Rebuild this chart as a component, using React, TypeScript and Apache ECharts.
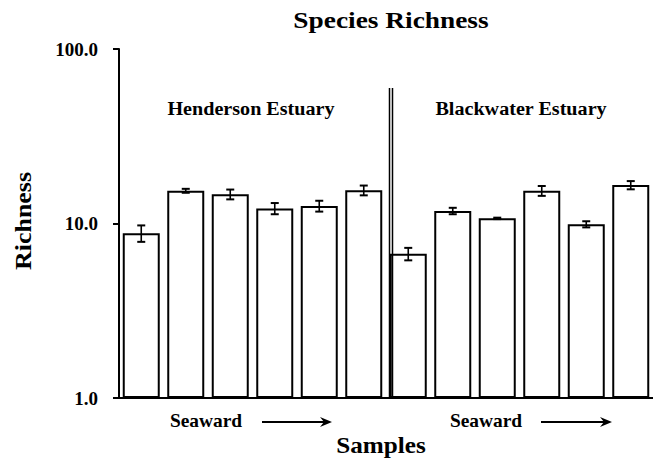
import React, { useEffect, useRef } from "react";
import * as echarts from "echarts";

const categories = ["H1", "H2", "H3", "H4", "H5", "H6", "B1", "B2", "B3", "B4", "B5", "B6"];
const richness = [8.8, 15.4, 14.7, 12.2, 12.6, 15.5, 6.7, 11.8, 10.7, 15.4, 9.9, 16.6];
const errors = [0.95, 0.4, 0.95, 0.9, 0.9, 1.0, 0.55, 0.5, 0.1, 1.0, 0.4, 0.9];
const yTickValues = [1, 10, 100];
const yTickLabels = ["1.0", "10.0", "100.0"];
const groupLabels = ["Henderson Estuary", "Blackwater Estuary"];
const directionLabel = "Seaward";
const titleText = "Species Richness";
const xName = "Samples";
const yName = "Richness";

const FONT = "Liberation Serif";

export default function App() {
  const ref = useRef<HTMLDivElement>(null);
  useEffect(() => {
    document.body.style.margin = "0";
    if (!ref.current) return;
    const chart = echarts.init(ref.current, null, { renderer: "svg" });
    const txt = (text: string, x: number, y: number, size: number, sx: number, rot = 0) => ({
      type: "text",
      x,
      y,
      rotation: rot,
      scaleX: sx,
      z: 10,
      style: {
        text,
        fontSize: size,
        fontWeight: "bold",
        fontFamily: FONT,
        fill: "#000",
        align: "center",
        verticalAlign: "middle",
      },
    });
    const arrow = (x1: number, x2: number, y: number) => [
      { type: "line", z: 10, shape: { x1, y1: y, x2: x2 - 6, y2: y }, style: { stroke: "#000", lineWidth: 2 } },
      {
        type: "polygon",
        z: 10,
        shape: { points: [[x2, y], [x2 - 12, y - 5], [x2 - 8, y], [x2 - 12, y + 5]] },
        style: { fill: "#000" },
      },
    ];
    chart.setOption({
      animation: false,
      backgroundColor: "#fff",
      grid: { left: 119, right: -12, top: 49, bottom: 60, containLabel: false },
      xAxis: {
        type: "category",
        data: categories,
        axisLine: { lineStyle: { color: "#000", width: 2 } },
        axisTick: { show: false },
        axisLabel: { show: false },
        splitLine: { show: false },
      },
      yAxis: {
        type: "log",
        logBase: 10,
        min: yTickValues[0],
        max: yTickValues[yTickValues.length - 1],
        axisLine: { show: true, lineStyle: { color: "#000", width: 2 } },
        axisTick: { show: true, length: 6, lineStyle: { color: "#000", width: 2 } },
        splitLine: { show: false },
        minorTick: { show: false },
        axisLabel: {
          margin: 21,
          fontSize: 19,
          fontWeight: "bold",
          fontFamily: FONT,
          color: "#000",
          formatter: (v: number) => {
            const i = yTickValues.findIndex((t) => Math.abs(t - v) < 1e-6);
            return i >= 0 ? yTickLabels[i] : "";
          },
        },
      },
      series: [
        {
          type: "bar",
          data: richness,
          barWidth: 37,
          itemStyle: { color: "#fff", borderColor: "#000", borderWidth: 2 },
          z: 2,
        },
        {
          type: "custom",
          z: 5,
          data: richness.map((v, i) => [i, v, errors[i]]),
          renderItem: (params: any, api: any) => {
            const i = api.value(0);
            const v = api.value(1);
            const e = api.value(2);
            const top = api.coord([i, v + e]);
            const bot = api.coord([i, v - e]);
            const cw = 4;
            const st = { stroke: "#000", lineWidth: 1.6 };
            return {
              type: "group",
              children: [
                { type: "line", shape: { x1: top[0], y1: top[1], x2: bot[0], y2: bot[1] }, style: st },
                { type: "line", shape: { x1: top[0] - cw, y1: top[1], x2: top[0] + cw, y2: top[1] }, style: { ...st, lineWidth: 2 } },
                { type: "line", shape: { x1: bot[0] - cw, y1: bot[1], x2: bot[0] + cw, y2: bot[1] }, style: { ...st, lineWidth: 2 } },
              ],
            };
          },
        },
      ],
      graphic: [
        txt(titleText, 391, 20, 23, 1.19),
        txt(groupLabels[0], 251, 109, 19, 1.06),
        txt(groupLabels[1], 521, 109, 19, 1.06),
        txt(directionLabel, 206, 421, 18.5, 1.05),
        txt(directionLabel, 486, 421, 18.5, 1.05),
        txt(xName, 381, 445, 24, 1.05),
        txt(yName, 23, 221, 23, 1.13, Math.PI / 2),
        ...arrow(262, 332, 422),
        ...arrow(541, 612, 422),
        { type: "line", z: 10, shape: { x1: 389.5, y1: 88, x2: 389.5, y2: 398 }, style: { stroke: "#000", lineWidth: 1.5 } },
        { type: "line", z: 10, shape: { x1: 392.5, y1: 88, x2: 392.5, y2: 398 }, style: { stroke: "#000", lineWidth: 1.5 } },
      ],
    });
    return () => chart.dispose();
  }, []);
  return <div ref={ref} style={{ width: 653, height: 458 }} />;
}
